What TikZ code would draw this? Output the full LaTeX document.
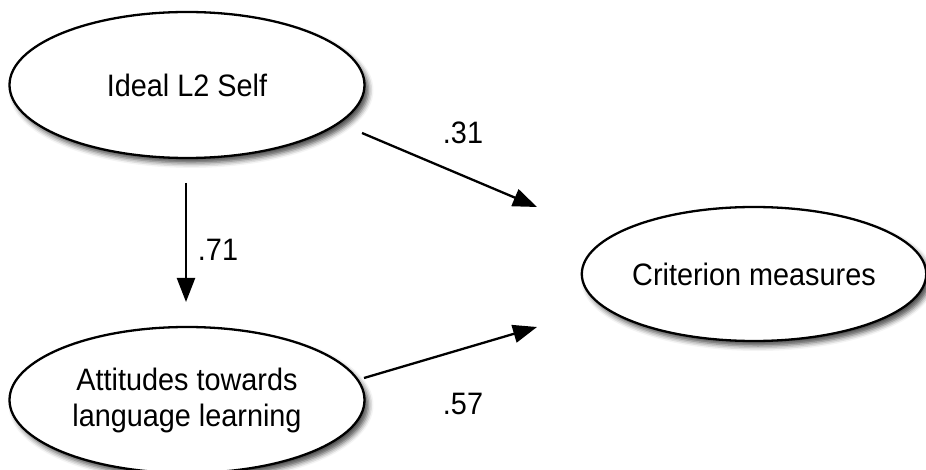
\documentclass[tikz,border=0pt]{standalone}
\usepackage{fontspec}
\setmainfont[FakeStretch=0.93]{Liberation Sans}
\usetikzlibrary{arrows.meta,shadows.blur,shapes.geometric}
\tikzset{
  latent/.style={ellipse, draw=black, line width=2.3pt, fill=white, font=\fontsize{31}{36}\selectfont, align=center, inner sep=0pt,
    blur shadow={shadow xshift=4pt, shadow yshift=-5pt, shadow blur radius=5pt, shadow opacity=70}},
  path/.style={line width=2.3pt, -{Triangle[length=24pt,width=18pt]}},
  coef/.style={font=\fontsize{31}{36}\selectfont}
}
\begin{document}
\begin{tikzpicture}[x=1pt,y=-1pt]
\useasboundingbox (0,0) rectangle (926,470);
\node[latent, minimum width=355pt, minimum height=146pt] (ideal) at (187,85) {Ideal L2 Self};
\node[latent, minimum width=355pt, minimum height=146pt] (att) at (187,400) {Attitudes towards\\language learning};
\node[latent, minimum width=342pt, minimum height=134pt] (crit) at (754,274) {Criterion measures};
\coordinate (s1) at (186,183);
\coordinate (e1) at (186,302);
\coordinate (s2) at (362,133);
\coordinate (e2) at (537,207);
\coordinate (s3) at (364,378);
\coordinate (e3) at (537,327);
\draw[path] (s1) -- (e1);
\draw[path] (s2) -- (e2);
\draw[path] (s3) -- (e3);
\node[coef] (c71) at (218,250) {.71};
\node[coef] (c31) at (463,133) {.31};
\node[coef] (c57) at (463,404) {.57};
\end{tikzpicture}
\end{document}
